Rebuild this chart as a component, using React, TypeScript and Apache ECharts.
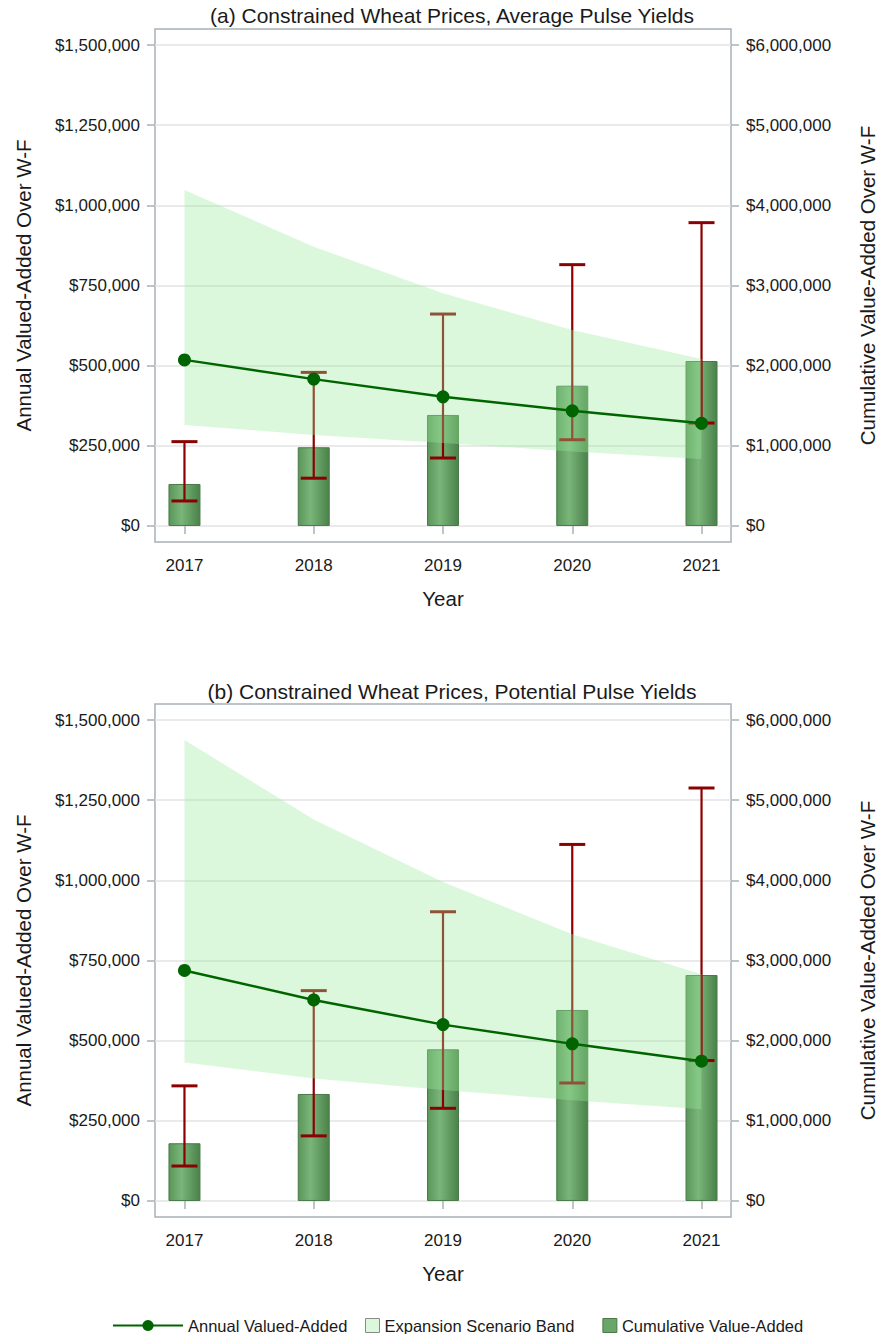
import React, { useEffect, useRef } from "react";
import * as echarts from "echarts";

// ---------- Data ----------
const years = [2017, 2018, 2019, 2020, 2021];
const leftTicks = [0, 250000, 500000, 750000, 1000000, 1250000, 1500000];
const rightTicks = [0, 1000000, 2000000, 3000000, 4000000, 5000000, 6000000];

// Panel (a) Constrained Wheat Prices, Average Pulse Yields
const annualA = [518000, 458000, 403000, 359000, 320000];
const cumulativeA = [524000, 982000, 1385000, 1750000, 2058000];
const errLowA = [78000, 149000, 212000, 269000, 321000];
const errHighA = [263000, 479000, 661000, 815000, 946000];
const bandLowA = [315000, 284000, 259000, 232000, 209000];
const bandHighA = [1048000, 871000, 726000, 611000, 521000];

// Panel (b) Constrained Wheat Prices, Potential Pulse Yields
const annualB = [719000, 627000, 550000, 490000, 436000];
const cumulativeB = [720000, 1335000, 1892000, 2383000, 2819000];
const errLowB = [109000, 203000, 289000, 368000, 438000];
const errHighB = [359000, 656000, 902000, 1112000, 1288000];
const bandLowB = [432000, 382000, 346000, 314000, 286000];
const bandHighB = [1438000, 1190000, 995000, 832000, 707000];

const titleA = "(a) Constrained Wheat Prices, Average Pulse Yields";
const titleB = "(b) Constrained Wheat Prices, Potential Pulse Yields";
const leftName = "Annual Valued-Added Over W-F";
const rightName = "Cumulative Value-Added Over W-F";
const xName = "Year";
const nameAnnual = "Annual Valued-Added";
const nameBand = "Expansion Scenario Band";
const nameCum = "Cumulative Value-Added";

// ---------- Styles ----------
const FONT = "Liberation Sans, Arial, sans-serif";
const TXT = "#1a1a1a";
const FRAME = "#a9b0b7";
const GRIDLINE = "#e3e3e3";
const ERR = "#8b0000";
const LINE = "#006400";
const BAND = "rgba(155,234,155,0.35)";
const TICK_FS = 17;
const NAME_FS = 20.5;

const money = (v: number) => "$" + Math.round(v).toLocaleString("en-US");

function makeAxes(gridIndex: number) {
  const x = {
    type: "value",
    gridIndex,
    min: 2016.772,
    max: 2021.228,
    name: xName,
    nameLocation: "middle",
    nameGap: 46,
    nameTextStyle: { fontFamily: FONT, fontSize: NAME_FS, color: TXT },
    axisLine: { show: false },
    axisTick: { show: true, customValues: years, length: 8, lineStyle: { color: FRAME, width: 1.5 } },
    axisLabel: {
      customValues: years,
      formatter: (v: number) => String(Math.round(v)),
      fontFamily: FONT,
      fontSize: TICK_FS,
      color: TXT,
      margin: 15,
    },
    splitLine: { show: false },
  };
  const yl = {
    type: "value",
    gridIndex,
    position: "left",
    min: -50000,
    max: 1550000,
    name: leftName,
    nameLocation: "middle",
    nameGap: 121,
    nameTextStyle: { fontFamily: FONT, fontSize: NAME_FS, color: TXT },
    axisLine: { show: false },
    axisTick: { show: true, customValues: leftTicks, length: 8, lineStyle: { color: FRAME, width: 1.5 } },
    axisLabel: { customValues: leftTicks, formatter: money, fontFamily: FONT, fontSize: TICK_FS, color: TXT, margin: 15 },
    splitLine: { show: true, lineStyle: { color: GRIDLINE, width: 1.5 } },
  };
  const yr = {
    type: "value",
    gridIndex,
    position: "right",
    min: -200000,
    max: 6200000,
    name: rightName,
    nameLocation: "middle",
    nameGap: 126,
    nameTextStyle: { fontFamily: FONT, fontSize: NAME_FS, color: TXT },
    axisLine: { show: false },
    axisTick: { show: true, customValues: rightTicks, length: 8, lineStyle: { color: FRAME, width: 1.5 } },
    axisLabel: { customValues: rightTicks, formatter: money, fontFamily: FONT, fontSize: TICK_FS, color: TXT, margin: 15 },
    splitLine: { show: false },
  };
  return { x, yl, yr };
}

function makeSeries(
  xi: number,
  yLeft: number,
  yRight: number,
  annual: number[],
  cumulative: number[],
  errLow: number[],
  errHigh: number[],
  bandLow: number[],
  bandHigh: number[]
) {
  return [
    {
      type: "bar",
      name: nameCum,
      xAxisIndex: xi,
      yAxisIndex: yRight,
      z: 1,
      barWidth: 32,
      data: years.map((y, i) => [y, cumulative[i]]),
      itemStyle: {
        color: {
          type: "linear",
          x: 0,
          y: 0,
          x2: 1,
          y2: 0,
          colorStops: [
            { offset: 0, color: "#5a965a" },
            { offset: 0.4, color: "#7ab57a" },
            { offset: 1, color: "#4a824a" },
          ],
        },
        borderColor: "#4a7a4a",
        borderWidth: 1,
      },
    },
    {
      type: "custom",
      name: "err" + xi,
      xAxisIndex: xi,
      yAxisIndex: yLeft,
      z: 2,
      data: years.map((y, i) => [y, errLow[i], errHigh[i]]),
      encode: { x: 0, y: [1, 2] },
      renderItem: (params: any, api: any) => {
        const x = api.value(0);
        const lo = api.coord([x, api.value(1)]);
        const hi = api.coord([x, api.value(2)]);
        const hw = 13;
        return {
          type: "group",
          children: [
            { type: "line", shape: { x1: hi[0], y1: hi[1], x2: lo[0], y2: lo[1] }, style: { stroke: ERR, lineWidth: 2.2 } },
            { type: "line", shape: { x1: hi[0] - hw, y1: hi[1], x2: hi[0] + hw, y2: hi[1] }, style: { stroke: ERR, lineWidth: 3 } },
            { type: "line", shape: { x1: lo[0] - hw, y1: lo[1], x2: lo[0] + hw, y2: lo[1] }, style: { stroke: ERR, lineWidth: 3 } },
          ],
        };
      },
    },
    {
      type: "custom",
      name: nameBand,
      xAxisIndex: xi,
      yAxisIndex: yLeft,
      z: 3,
      itemStyle: { color: BAND },
      data: years.map((y, i) => [y, bandLow[i], bandHigh[i]]),
      encode: { x: 0, y: [1, 2] },
      renderItem: (params: any, api: any) => {
        if (params.dataIndex !== 0) return null;
        const upper = years.map((y, i) => api.coord([y, bandHigh[i]]));
        const lower = years.map((y, i) => api.coord([y, bandLow[i]])).reverse();
        return {
          type: "polygon",
          shape: { points: upper.concat(lower) },
          style: { fill: BAND, stroke: "none" },
        };
      },
    },
    {
      type: "line",
      name: nameAnnual,
      xAxisIndex: xi,
      yAxisIndex: yLeft,
      z: 4,
      data: years.map((y, i) => [y, annual[i]]),
      symbol: "circle",
      symbolSize: 13,
      lineStyle: { color: LINE, width: 2.5 },
      itemStyle: { color: LINE },
    },
  ];
}

export default function App() {
  const ref = useRef<HTMLDivElement>(null);
  useEffect(() => {
    if (!ref.current) return;
    const chart = echarts.init(ref.current, null, { renderer: "svg" });
    const a = makeAxes(0);
    const b = makeAxes(1);
    const titleStyle = { fontFamily: FONT, fontSize: 21, fontWeight: "normal", color: TXT };
    const option = {
      animation: false,
      backgroundColor: "#ffffff",
      textStyle: { fontFamily: FONT },
      title: [
        { text: titleA, left: 447, top: 0, textAlign: "center", textStyle: titleStyle },
        { text: titleB, left: 447, top: 676, textAlign: "center", textStyle: titleStyle },
      ],
      grid: [
        { left: 155, right: 146, top: 29, height: 513, show: true, borderColor: FRAME, borderWidth: 1.5, backgroundColor: "transparent" },
        { left: 155, right: 146, top: 704, height: 513, show: true, borderColor: FRAME, borderWidth: 1.5, backgroundColor: "transparent" },
      ],
      xAxis: [a.x, b.x],
      yAxis: [a.yl, a.yr, b.yl, b.yr],
      legend: [
        {
          left: 107,
          top: 1312,
          itemWidth: 70,
          itemHeight: 14,
          textStyle: { fontFamily: FONT, fontSize: 16.5, color: TXT },
          data: [{ name: nameAnnual }],
          selectedMode: false,
        },
        {
          left: 360,
          top: 1312,
          itemWidth: 14,
          itemHeight: 14,
          itemGap: 28,
          textStyle: { fontFamily: FONT, fontSize: 16.5, color: TXT },
          data: [
            { name: nameBand, icon: "rect", itemStyle: { color: "#dcf8dc", borderColor: "#8a8a8a", borderWidth: 1 } },
            { name: nameCum, icon: "rect", itemStyle: { color: "#6aa66a", borderColor: "#4a7a4a", borderWidth: 1 } },
          ],
          selectedMode: false,
        },
      ],
      series: [
        ...makeSeries(0, 0, 1, annualA, cumulativeA, errLowA, errHighA, bandLowA, bandHighA),
        ...makeSeries(1, 2, 3, annualB, cumulativeB, errLowB, errHighB, bandLowB, bandHighB),
      ],
    };
    chart.setOption(option as any);
    return () => chart.dispose();
  }, []);
  return <div ref={ref} style={{ position: "fixed", left: 0, top: 0, width: 886, height: 1334, background: "#fff" }} />;
}
